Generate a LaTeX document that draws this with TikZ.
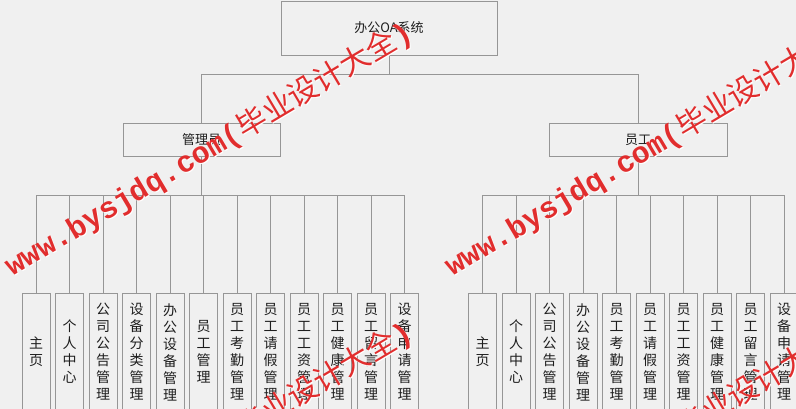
\documentclass[tikz,border=0pt]{standalone}
\usepackage{fontspec}
\setmainfont{Noto Sans CJK SC}
\newfontfamily\wmcjk{Noto Sans CJK SC}
\newfontfamily\wmlat{Liberation Mono}
\definecolor{bg}{RGB}{240,240,240}
\definecolor{ln}{RGB}{150,150,150}
\definecolor{wm}{RGB}{225,45,45}
\definecolor{tx}{RGB}{30,30,30}
\tikzset{
  box/.style={draw=ln, line width=0.8pt, inner sep=0pt, text=tx},
  parent/.style={box, font=\fontsize{13}{15}\selectfont},
  leaf/.style={box, minimum width=28pt, minimum height=118pt, align=center,
    font=\fontsize{14}{17}\selectfont},
  conn/.style={draw=ln, line width=0.8pt},
  wmark/.style={text=wm, anchor=base west, rotate=30.7, inner sep=0pt,
    font=\fontsize{30}{30}\selectfont},
}
\newcommand{\wmtext}{{\wmlat\bfseries www.bysjdq.com(}{\wmcjk 毕业设计大全}{\wmlat\bfseries )}}
\begin{document}
\begin{tikzpicture}[x=1pt,y=-1pt]
\useasboundingbox (0,0) rectangle (796,409);
\fill[bg] (0,0) rectangle (796,409);
\clip (0,0) rectangle (796,409);
% bus levels
\coordinate (tb) at (0,74);
\coordinate (lb) at (0,195);
% parents
\node[parent, minimum width=216pt, minimum height=54pt] (top) at (389,28) {办公OA系统};
\node[parent, minimum width=157pt, minimum height=33pt] (adm) at (201.5,139.5) {管理员};
\node[parent, minimum width=178pt, minimum height=33pt] (emp) at (638,139.5) {员工};
% top connectors
\draw[conn] (top.south) -- (top.south |- tb);
\draw[conn] (adm.north) |- (emp.north |- tb) -- (emp.north);
% left leaves
\foreach \t [count=\i from 0] in {{主\\页},{个\\人\\中\\心},{公\\司\\公\\告\\管\\理},{设\\备\\分\\类\\管\\理},{办\\公\\设\\备\\管\\理},{员\\工\\管\\理},{员\\工\\考\\勤\\管\\理},{员\\工\\请\\假\\管\\理},{员\\工\\工\\资\\管\\理},{员\\工\\健\\康\\管\\理},{员\\工\\留\\言\\管\\理},{设\\备\\申\\请\\管\\理}}
  \node[leaf] (L\i) at ({36+33.5*\i},352) {\t};
\draw[conn] (adm.south) -- (adm.south |- lb);
\draw[conn] (L0.north |- lb) -- (L11.north |- lb);
\foreach \i in {0,...,11} \draw[conn] (L\i.north) -- (L\i.north |- lb);
% right leaves
\foreach \t [count=\i from 0] in {{主\\页},{个\\人\\中\\心},{公\\司\\公\\告\\管\\理},{办\\公\\设\\备\\管\\理},{员\\工\\考\\勤\\管\\理},{员\\工\\请\\假\\管\\理},{员\\工\\工\\资\\管\\理},{员\\工\\健\\康\\管\\理},{员\\工\\留\\言\\管\\理},{设\\备\\申\\请\\管\\理}}
  \node[leaf] (R\i) at ({482.7+33.5*\i},352) {\t};
\draw[conn] (emp.south) -- (emp.south |- lb);
\draw[conn] (R0.north |- lb) -- (R9.north |- lb);
\foreach \i in {0,...,9} \draw[conn] (R\i.north) -- (R\i.north |- lb);
% watermark
\foreach \x/\y [count=\k] in {12/277, 452/277, 12/577, 452/577} {
  \node[wmark, text=white] (ws\k) at (\x+1,\y+1) {\wmtext};
  \node[wmark] (w\k) at (\x,\y) {\wmtext};
}
\end{tikzpicture}
\end{document}
